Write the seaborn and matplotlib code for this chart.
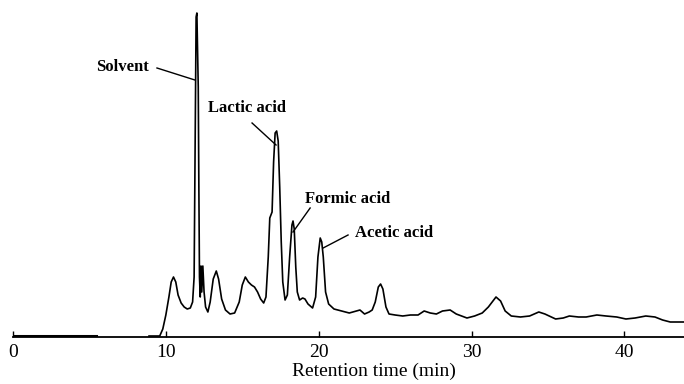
import numpy as np
import pandas as pd
import matplotlib
matplotlib.use("Agg")
import matplotlib.pyplot as plt
import seaborn as sns

# ---- data (time in min, detector response in arbitrary units) ----
pre_time = [0.0, 1.0, 2.0, 3.0, 4.0, 5.4]
pre_signal = [1.5, 1.5, 1.5, 1.5, 1.5, 1.5]

time = [8.9, 9.6, 9.8, 10.0, 10.2, 10.35, 10.5, 10.65, 10.8, 11.0, 11.2, 11.4, 11.6, 11.75,
        11.85, 11.92, 11.98, 12.03, 12.12, 12.16, 12.2, 12.25, 12.3, 12.35, 12.42, 12.5,
        12.6, 12.75, 12.9, 13.1, 13.3, 13.45, 13.65, 13.9, 14.2, 14.5, 14.8, 15.0, 15.2,
        15.4, 15.6, 15.8, 16.0, 16.2, 16.4, 16.55, 16.7, 16.8, 16.95, 17.05, 17.15, 17.25,
        17.35, 17.45, 17.55, 17.65, 17.8, 17.95, 18.1, 18.25, 18.32, 18.4, 18.5, 18.6,
        18.75, 18.95, 19.1, 19.3, 19.6, 19.8, 19.95, 20.1, 20.2, 20.3, 20.45, 20.65, 21.0,
        21.5, 22.0, 22.7, 23.0, 23.3, 23.5, 23.7, 23.9, 24.05, 24.2, 24.4, 24.6, 25.0, 25.5,
        26.0, 26.5, 26.9, 27.3, 27.7, 28.1, 28.6, 29.0, 29.7, 30.2, 30.7, 31.1, 31.6, 31.9,
        32.2, 32.6, 33.2, 33.8, 34.4, 34.8, 35.5, 36.0, 36.4, 37.0, 37.5, 38.2, 38.8, 39.5,
        40.1, 40.7, 41.4, 42.0, 42.5, 43.0, 43.9]
signal = [1, 1, 8, 22, 40, 55, 60, 55, 42, 34, 30, 28, 29, 35,
          60, 200, 320, 324, 250, 150, 60, 40, 71, 45, 71, 45,
          30, 25, 35, 58, 66, 58, 38, 27, 23, 24, 35, 52, 60,
          55, 52, 50, 45, 38, 34, 40, 80, 119, 125, 175, 204, 206,
          196, 150, 95, 55, 37, 42, 80, 112, 116, 108, 70, 45,
          37, 39, 38, 33, 29, 40, 80, 99, 95, 80, 45, 33, 28,
          26, 24, 27, 23, 25, 27, 35, 50, 53, 48, 30, 23, 22, 21,
          22, 22, 26, 24, 23, 26, 27, 23, 19, 21, 24, 30, 40, 36,
          26, 21, 20, 21, 25, 23, 18, 19, 21, 20, 20, 22, 21, 20,
          18, 19, 21, 20, 17, 15, 15]

peak_names = ["Solvent", "Lactic acid", "Formic acid", "Acetic acid"]
tick_values = [0, 10, 20, 30, 40]

df = pd.concat([
    pd.DataFrame({"time": pre_time, "signal": pre_signal, "seg": 0}),
    pd.DataFrame({"time": time, "signal": signal, "seg": 1}),
])

fig = plt.figure(figsize=(6.84, 3.84), dpi=100)
ax = fig.add_axes([13 / 684, 47 / 384, 671 / 684, 337 / 384])

sns.lineplot(data=df, x="time", y="signal", units="seg", estimator=None,
             color="black", linewidth=1.2, ax=ax, sort=False)
# thicker initial baseline
sns.lineplot(x=pre_time, y=pre_signal, color="black", linewidth=2.2, ax=ax)

ax.set_xlim(0, 43.9)
ax.set_ylim(0, 337)
for s in ["top", "right", "left"]:
    ax.spines[s].set_visible(False)
ax.spines["bottom"].set_linewidth(1.3)
ax.set_yticks([])
ax.set_ylabel("")
ax.set_xticks(tick_values)
ax.set_xticklabels([str(v) for v in tick_values], fontsize=14, family="Liberation Serif")
ax.tick_params(axis="x", direction="in", length=4, width=1, pad=5)
ax.set_xlabel("Retention time (min)", fontsize=14, family="Liberation Serif", labelpad=2)
ax.xaxis.set_label_coords(0.538, -0.075)
ax.set_facecolor("white")
fig.patch.set_facecolor("white")

# annotations: (text position, leader start, leader end)
ann = [
    (peak_names[0], (5.45, 270), (9.42, 269), (11.9, 257)),
    (peak_names[1], (12.76, 229), (15.64, 214), (17.21, 192)),
    (peak_names[2], (19.1, 138), (19.44, 129), (18.32, 105)),
    (peak_names[3], (22.38, 104), (21.92, 102), (20.29, 89)),
]
for name, tpos, lstart, lend in ann:
    ax.text(tpos[0], tpos[1], name, fontsize=12, fontweight="bold",
            family="Liberation Serif", ha="left", va="center")
    ax.plot([lstart[0], lend[0]], [lstart[1], lend[1]], color="black", linewidth=1.0)

fig.savefig("out.png", dpi=100)
